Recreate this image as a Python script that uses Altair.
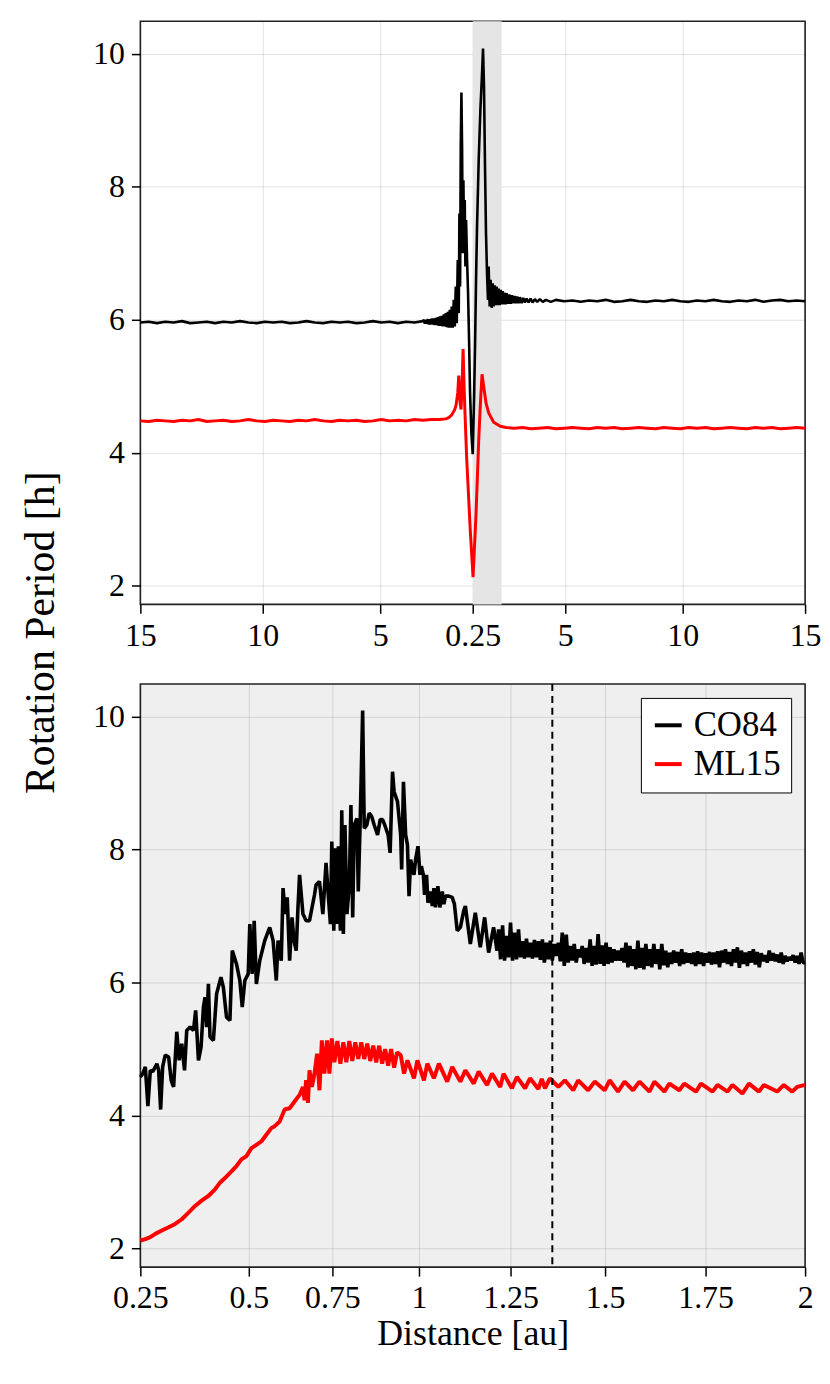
import altair as alt
import pandas as pd

FONT = "Liberation Serif"
Y_DOMAIN = [1.72, 10.49]
Y_TICKS = [2, 4, 6, 8, 10]

# top panel: time axis (arbitrary units), tick labels show heliocentric distance [au]
TOP_DOMAIN = [-1000, 1000]
TOP_TICKS = [-1000, -632, -278, 0, 278, 632, 1000]
TOP_LABELS = ["15", "10", "5", "0.25", "5", "10", "15"]
BAND = [0, 87]

# bottom panel: zoom on the shaded band
BOT_DOMAIN = [0, 334]
BOT_TICKS = [0, 54.5, 96.5, 140, 186, 233.5, 284, 334]
BOT_LABELS = ["0.25", "0.5", "0.75", "1", "1.25", "1.5", "1.75", "2"]
DASH_X = [207]

SERIES = ["CO84", "ML15"]
COLORS = ["black", "#ff0000"]

top_co84 = [
    (-1000, 5.96), (-975, 5.97), (-950, 5.95), (-925, 5.97), (-900, 5.96), (-875, 5.98), (-850, 5.95),
    (-825, 5.96), (-800, 5.97), (-775, 5.95), (-750, 5.97), (-725, 5.96), (-700, 5.98), (-675, 5.96),
    (-650, 5.95), (-625, 5.97), (-600, 5.96), (-575, 5.97), (-550, 5.95), (-525, 5.96), (-500, 5.98),
    (-475, 5.96), (-450, 5.95), (-425, 5.97), (-400, 5.96), (-375, 5.97), (-350, 5.95), (-325, 5.96),
    (-300, 5.98), (-275, 5.96), (-250, 5.97), (-225, 5.95), (-200, 5.97), (-175, 5.96), (-150, 5.98),
    (-147, 6.00), (-144, 5.94), (-141, 6.00), (-138, 5.94), (-135, 6.01), (-132, 5.93), (-129, 6.01),
    (-126, 5.93), (-123, 6.02), (-120, 5.93), (-117, 6.02), (-114, 5.92), (-111, 6.03), (-108, 5.92),
    (-105, 6.04), (-102, 5.91), (-99, 6.05), (-96, 5.91), (-93, 6.06), (-90, 5.90), (-87, 6.08),
    (-84, 5.90), (-81, 6.10), (-78, 5.89), (-75, 6.12), (-72, 5.88), (-69, 6.15), (-66, 5.88),
    (-63, 6.20), (-60, 5.88), (-57, 6.30), (-54, 5.90), (-51, 6.50), (-48, 5.95),
    (-45, 6.9), (-42, 6.1), (-40, 7.6), (-38, 6.5), (-36, 8.6), (-34, 9.42), (-32, 8.6), (-30, 7.0),
    (-28, 8.1), (-26, 7.1), (-24, 7.8), (-22, 6.8), (-20, 7.5), (-17, 6.9), (-14, 6.4), (-11, 5.7),
    (-8, 4.9), (-4, 4.3), (0, 3.98), (4, 4.8), (7, 5.6), (10, 6.6), (13, 7.4), (18, 8.4), (23, 9.15),
    (28, 9.7), (31, 10.08), (34, 9.5), (37, 8.3), (40, 7.3), (43, 6.7), (46, 6.3), (48, 6.8), (51, 6.2),
    (54, 6.6), (57, 6.18), (60, 6.55), (63, 6.2), (66, 6.52), (69, 6.22), (72, 6.5), (75, 6.22),
    (78, 6.47), (81, 6.22), (84, 6.45), (87, 6.23), (90, 6.43), (93, 6.23), (96, 6.41), (99, 6.23),
    (102, 6.40), (106, 6.24), (110, 6.38), (114, 6.24), (118, 6.37), (122, 6.25), (126, 6.36),
    (130, 6.25), (134, 6.35), (138, 6.25), (142, 6.34), (147, 6.25), (152, 6.33), (157, 6.26),
    (162, 6.32), (168, 6.26), (174, 6.32), (180, 6.26), (187, 6.31), (194, 6.27), (202, 6.31),
    (211, 6.27), (220, 6.30), (235, 6.27), (250, 6.30),
    (275, 6.28), (300, 6.29), (325, 6.27), (350, 6.29), (375, 6.28), (400, 6.30), (425, 6.27),
    (450, 6.28), (475, 6.30), (500, 6.28), (525, 6.27), (550, 6.29), (575, 6.28), (600, 6.30),
    (625, 6.28), (650, 6.27), (675, 6.29), (700, 6.28), (725, 6.30), (750, 6.28), (775, 6.27),
    (800, 6.29), (825, 6.28), (850, 6.30), (875, 6.27), (900, 6.29), (925, 6.30), (950, 6.28),
    (975, 6.29), (1000, 6.28),
]

top_ml15 = [
    (-1000, 4.48), (-975, 4.47), (-950, 4.49), (-925, 4.48), (-900, 4.47), (-875, 4.49), (-850, 4.48),
    (-825, 4.50), (-800, 4.47), (-775, 4.48), (-750, 4.49), (-725, 4.47), (-700, 4.48), (-675, 4.50),
    (-650, 4.48), (-625, 4.47), (-600, 4.49), (-575, 4.48), (-550, 4.47), (-525, 4.49), (-500, 4.48),
    (-475, 4.50), (-450, 4.48), (-425, 4.47), (-400, 4.49), (-375, 4.48), (-350, 4.49), (-325, 4.47),
    (-300, 4.48), (-275, 4.50), (-250, 4.48), (-225, 4.49), (-200, 4.48), (-175, 4.50), (-150, 4.49),
    (-125, 4.50), (-100, 4.50),
    (-81, 4.51), (-72, 4.53), (-63, 4.57), (-54, 4.65), (-50, 4.72), (-45, 4.9), (-42, 5.16),
    (-38, 4.75), (-35, 4.65), (-31, 5.2), (-29, 5.56), (-26, 5.0), (-24, 4.7), (-18, 3.9), (-7, 2.8),
    (1, 2.13), (10, 3.08), (18, 4.18), (23, 4.73), (28, 5.18), (33, 5.0), (40, 4.75), (48, 4.6),
    (63, 4.46), (83, 4.40), (100, 4.38),
    (125, 4.37), (150, 4.38), (175, 4.36), (200, 4.37), (225, 4.38), (250, 4.36), (275, 4.37),
    (300, 4.38), (325, 4.37), (350, 4.36), (375, 4.38), (400, 4.37), (425, 4.38), (450, 4.36),
    (475, 4.37), (500, 4.38), (525, 4.37), (550, 4.36), (575, 4.38), (600, 4.37), (625, 4.36),
    (650, 4.38), (675, 4.37), (700, 4.38), (725, 4.36), (750, 4.37), (775, 4.38), (800, 4.37),
    (825, 4.36), (850, 4.38), (875, 4.37), (900, 4.38), (925, 4.36), (950, 4.37), (975, 4.38),
    (1000, 4.37),
]

bot_co84 = [
    (0, 4.58), (1.2, 4.63), (2.5, 4.73), (3.8, 4.14), (5, 4.68), (6.2, 4.66), (7.5, 4.73), (8.3, 4.78),
    (9.2, 4.68), (10.2, 4.09), (11.2, 4.73), (12.5, 4.91), (14.2, 4.88), (15.5, 4.53), (16.7, 4.43),
    (18.3, 5.26), (19.5, 4.83), (20.8, 5.08), (22.2, 4.68), (23.3, 5.28), (25, 5.33), (26.7, 5.28),
    (27.8, 5.58), (29.2, 4.83), (30.5, 5.03), (31.7, 5.63), (32.5, 5.78), (33.3, 5.33), (34.2, 5.98),
    (35, 5.18), (36.7, 5.13), (38.3, 5.83), (40.5, 6.08), (41.7, 5.93), (43.3, 5.48), (45, 5.43),
    (46.2, 6.48), (48.3, 6.28), (50, 6.03), (51.2, 5.63), (52.5, 6.03), (54.2, 6.13), (55, 6.88),
    (56.2, 6.13), (57.2, 6.93), (58.3, 5.98), (60, 6.33), (62.5, 6.63), (65, 6.83), (66.7, 6.63),
    (68.3, 6.03), (69.2, 6.63), (70.8, 6.33), (71.7, 7.42), (72.8, 7.03), (73.8, 7.28), (75, 6.33),
    (76.2, 6.98), (77.2, 6.63), (78.3, 6.48), (79.2, 7.13), (80, 7.62), (81.7, 7.03), (83.3, 6.93),
    (85, 6.93), (87.5, 7.32), (88.3, 7.47), (90, 7.52), (91.7, 7.03), (93.3, 7.80), (94.5, 7.28),
    (95.5, 6.88), (96.2, 8.12), (97.2, 6.78), (97.8, 8.02), (98.8, 6.88), (99.5, 8.05), (100.5, 6.78),
    (101.2, 8.59), (102, 6.73), (102.8, 8.37), (103.8, 7.03), (105, 7.47), (105.8, 8.67), (106.7, 6.98),
    (107.5, 8.37), (108.8, 8.47), (109.5, 7.37), (110.5, 8.47), (111.7, 10.09), (112.5, 8.32),
    (113.8, 8.37), (115, 8.55), (116.2, 8.50), (117.5, 8.37), (119.2, 8.22), (120.5, 8.45),
    (121.7, 8.45), (122.8, 8.37), (124.5, 8.22), (125.5, 7.95), (126.7, 9.17), (127.5, 8.87),
    (129.2, 8.72), (130.8, 8.22), (131.3, 7.70), (132.2, 9.02), (133.3, 8.22), (134.2, 8.07),
    (135, 7.30), (135.8, 7.85), (137.5, 7.62), (138.3, 7.85), (139.5, 8.05), (140.5, 7.62),
    (141.2, 7.75), (142.2, 7.62), (142.8, 7.32), (143.8, 7.62), (144.5, 7.20), (145.8, 7.37),
    (146.7, 7.15), (147.5, 7.42), (148.3, 7.13), (149.5, 7.45), (150.5, 7.13), (151.7, 7.37),
    (152.5, 7.18), (153.3, 7.30), (155, 7.30), (156.7, 7.28), (157.8, 7.18), (159.2, 6.78),
    (160.8, 6.83), (162.5, 7.08), (163.3, 7.15), (165.8, 6.58), (168.3, 7.05), (170.8, 6.53),
    (173, 6.98), (175, 6.45), (177.5, 6.83), (179.2, 6.48),
    (180, 6.80), (181, 6.35), (182, 6.86), (183, 6.33), (184, 6.70), (185, 6.38), (186, 6.90), (187, 6.33),
    (188, 6.75), (189, 6.35), (190, 6.80), (191, 6.38), (192, 6.62), (193, 6.36), (194, 6.66), (195, 6.38),
    (196, 6.60), (197, 6.36), (198, 6.64), (199, 6.38), (200, 6.62), (201, 6.34), (202, 6.65), (203, 6.30),
    (204, 6.60), (205, 6.35), (206, 6.63), (207, 6.33), (208, 6.58), (209, 6.40), (210, 6.60), (211, 6.32),
    (212, 6.75), (213, 6.25), (214, 6.72), (215, 6.30), (216, 6.55), (217, 6.33), (218, 6.58), (219, 6.30),
    (220, 6.50), (221, 6.38), (222, 6.55), (223, 6.28), (224, 6.52), (225, 6.30), (226, 6.65), (227, 6.25),
    (228, 6.55), (229, 6.27), (230, 6.73), (231, 6.28), (232, 6.56), (233, 6.25), (234, 6.60), (235, 6.28),
    (236, 6.53), (237, 6.30), (238, 6.50), (239, 6.33), (240, 6.48), (241, 6.33), (242, 6.52), (243, 6.30),
    (244, 6.60), (245, 6.23), (246, 6.55), (247, 6.25), (248, 6.50), (249, 6.20), (250, 6.63), (251, 6.22),
    (252, 6.52), (253, 6.20), (254, 6.58), (255, 6.25), (256, 6.50), (257, 6.23), (258, 6.58), (259, 6.28),
    (260, 6.50), (261, 6.20), (262, 6.58), (263, 6.26), (264, 6.48), (265, 6.23), (266, 6.45), (267, 6.28),
    (268, 6.48), (269, 6.30), (270, 6.46), (271, 6.25), (272, 6.50), (273, 6.28), (274, 6.45), (275, 6.30),
    (276, 6.44), (277, 6.28), (278, 6.45), (279, 6.25), (280, 6.47), (281, 6.28), (282, 6.45), (283, 6.25),
    (284, 6.44), (285, 6.30), (286, 6.46), (287, 6.27), (288, 6.45), (289, 6.28), (290, 6.47), (291, 6.23),
    (292, 6.48), (293, 6.30), (294, 6.50), (295, 6.28), (296, 6.46), (297, 6.25), (298, 6.50), (299, 6.30),
    (300, 6.53), (301, 6.22), (302, 6.48), (303, 6.28), (304, 6.45), (305, 6.25), (306, 6.47), (307, 6.30),
    (308, 6.50), (309, 6.27), (310, 6.46), (311, 6.23), (312, 6.44), (313, 6.32), (314, 6.41), (315, 6.30),
    (316, 6.48), (317, 6.33), (318, 6.44), (319, 6.32), (320, 6.42), (321, 6.30), (322, 6.45), (323, 6.28),
    (324, 6.40), (325, 6.32), (326, 6.38), (327, 6.34), (328, 6.41), (329, 6.30), (330, 6.40), (331, 6.28),
    (332, 6.45), (333, 6.30), (334, 6.30),
]

bot_ml15 = [
    (0, 2.12), (2.5, 2.14), (5, 2.17), (7.5, 2.22), (10.8, 2.27), (14.2, 2.32), (17.5, 2.37),
    (20.8, 2.44), (24.2, 2.54), (27.5, 2.64), (30.8, 2.72), (34.2, 2.79), (37.5, 2.89), (40, 2.99),
    (42.5, 3.06), (45.8, 3.16), (48.3, 3.24), (50.8, 3.34), (53.3, 3.39), (55.8, 3.51), (58.3, 3.56),
    (60.8, 3.61), (63.3, 3.71), (65.8, 3.81), (67.5, 3.84), (70, 3.91), (72.5, 4.09), (75, 4.11),
    (77.5, 4.21), (80, 4.31), (81.7, 4.43), (82.5, 4.23), (83.3, 4.53), (84.2, 4.19), (85, 4.68),
    (86.2, 4.43), (87.5, 4.63), (88.8, 4.93), (90, 4.38), (91.2, 5.13), (92.5, 4.63), (93.8, 5.13),
    (95, 4.63), (96.2, 5.16), (97.5, 4.80), (99, 5.12), (100.5, 4.78), (102, 5.10), (103.5, 4.80),
    (105, 5.12), (106.5, 4.82), (108, 5.10), (109.5, 4.85), (111, 5.10), (112.5, 4.85), (114, 5.08),
    (115.5, 4.82), (117, 5.05), (118.5, 4.80), (120, 5.05), (121.5, 4.78), (123, 5.00), (124.5, 4.75),
    (126, 5.00), (127.5, 4.72), (129, 4.95), (130.8, 4.91), (132.5, 4.63), (134.2, 4.83), (137.5, 4.56),
    (139.2, 4.83), (142.5, 4.53), (144.2, 4.78), (147.5, 4.56), (150, 4.78), (154.2, 4.51), (156.7, 4.73),
    (160.8, 4.51), (163.3, 4.68), (167.5, 4.48), (170, 4.66), (174.2, 4.46), (176.7, 4.63), (180.8, 4.43),
    (182.5, 4.63), (186.7, 4.41), (189.2, 4.58), (193.3, 4.41), (195.8, 4.56), (200, 4.40), (201.7, 4.55),
    (203.3, 4.41), (205.8, 4.56), (210, 4.43), (213.3, 4.53), (217.5, 4.38), (220, 4.53), (225, 4.38),
    (228.3, 4.51), (233.3, 4.38), (235.8, 4.53), (240, 4.36), (243.3, 4.51), (247.5, 4.38), (250.8, 4.51),
    (255.8, 4.36), (258.3, 4.51), (263.3, 4.36), (265.8, 4.48), (270.8, 4.38), (273.3, 4.48), (279.2, 4.36),
    (281.7, 4.48), (287.5, 4.36), (290, 4.46), (295, 4.36), (297.5, 4.46), (302.5, 4.33), (305.8, 4.48),
    (310.8, 4.36), (313.3, 4.46), (320, 4.36), (323.3, 4.46), (327.5, 4.36), (330, 4.43), (334, 4.46),
]


def frame(points, name):
    return pd.DataFrame({
        "x": [p[0] for p in points],
        "period": [p[1] for p in points],
        "model": name,
        "order": list(range(len(points))),
    })


def label_expr(ticks, labels):
    return "".join(
        f"abs(datum.value - ({v})) < 0.5 ? '{l}' : " for v, l in zip(ticks, labels)
    ) + "''"


W, H = 668, 586
color_scale = alt.Scale(domain=SERIES, range=COLORS)
y_scale = alt.Scale(domain=Y_DOMAIN, nice=False, zero=False)

# ---------------- top panel ----------------
top_x = alt.X(
    "x:Q",
    scale=alt.Scale(domain=TOP_DOMAIN, nice=False, zero=False),
    axis=alt.Axis(values=TOP_TICKS, labelExpr=label_expr(TOP_TICKS, TOP_LABELS),
                  title=None, labelFlush=False, labelOverlap=False),
)
top_y = alt.Y(
    "period:Q", scale=y_scale,
    axis=alt.Axis(values=Y_TICKS, title="Rotation Period [h]", titleFontSize=42,
                  titleX=-87, titleY=614, titleBaseline="alphabetic", titleAlign="center"),
)

band = alt.Chart(pd.DataFrame({"x": [BAND[0]], "x2": [BAND[1]]})).mark_rect(
    color="#e5e5e5"
).encode(x=top_x, x2="x2:Q")


def top_line(points, name, width):
    return alt.Chart(frame(points, name)).mark_line(
        strokeWidth=width, strokeJoin="bevel"
    ).encode(
        x=top_x, y=top_y,
        color=alt.Color("model:N", scale=color_scale, legend=None),
        order="order:Q",
    )


top = alt.layer(
    band, top_line(top_ml15, "ML15", 3), top_line(top_co84, "CO84", 2.6)
).properties(width=W, height=H)

# ---------------- bottom panel ----------------
bot_x = alt.X(
    "x:Q",
    scale=alt.Scale(domain=BOT_DOMAIN, nice=False, zero=False),
    axis=alt.Axis(values=BOT_TICKS, labelExpr=label_expr(BOT_TICKS, BOT_LABELS),
                  title="Distance [au]", labelFlush=False, labelOverlap=False),
)
bot_y = alt.Y("period:Q", scale=y_scale, axis=alt.Axis(values=Y_TICKS, title=None))

legend = alt.Legend(
    title=None, orient="top-right", offset=14, fillColor="white", strokeColor="black",
    padding=10, labelFont=FONT, labelFontSize=35, labelColor="black", symbolType="stroke",
    symbolStrokeWidth=4, symbolSize=729, labelOffset=8, rowPadding=3,
)


def bot_line(points, name, width):
    return alt.Chart(frame(points, name)).mark_line(
        strokeWidth=width, strokeJoin="bevel"
    ).encode(
        x=bot_x, y=bot_y,
        color=alt.Color("model:N", scale=color_scale, legend=legend),
        order="order:Q",
    )


dash = alt.Chart(pd.DataFrame({"x": DASH_X})).mark_rule(
    color="black", strokeWidth=2, strokeDash=[7, 5]
).encode(x=bot_x)

bottom = alt.layer(
    bot_line(bot_co84, "CO84", 3.6), bot_line(bot_ml15, "ML15", 4), dash
).properties(width=W, height=H, view=alt.ViewBackground(fill="#efefef", stroke="#222", strokeWidth=1.6))

chart = alt.vconcat(top, bottom, spacing=80, bounds="flush").resolve_scale(
    x="independent", color="independent"
).resolve_legend(color="independent").configure_view(
    stroke="#222", strokeWidth=1.6
).configure_axis(
    labelFont=FONT, labelFontSize=32, titleFont=FONT, titleFontSize=36,
    titleFontWeight="normal", labelColor="black", titleColor="black",
    tickColor="black", tickWidth=1.5, tickSize=9, domain=False,
    gridColor="black", gridOpacity=0.12, gridWidth=1,
).configure_axisX(labelPadding=7, titlePadding=3).configure_axisY(labelPadding=7).properties(
    padding={"left": 11, "top": 9, "right": 0, "bottom": 0}
)

chart.save("out.html", embed_options={"renderer": "svg", "actions": False})
